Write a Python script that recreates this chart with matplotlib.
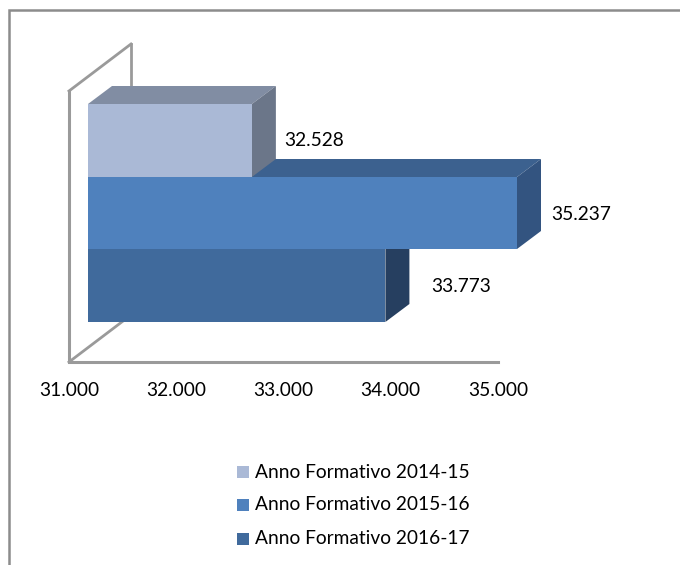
import matplotlib
matplotlib.use('Agg')
import matplotlib.pyplot as plt
from matplotlib.patches import Rectangle
from matplotlib.transforms import Affine2D

# data
series = ['Anno Formativo 2014-15', 'Anno Formativo 2015-16', 'Anno Formativo 2016-17']
values = [32528, 35237, 33773]
value_labels = ['32.528', '35.237', '33.773']
ticks = [31000, 32000, 33000, 34000, 35000]
tick_labels = ['31.000', '32.000', '33.000', '34.000', '35.000']

front_cols = ['#AAB9D6', '#4F81BD', '#406A9C']
top_cols = ['#818DA3', '#3C618F', '#3C618F']
side_cols = ['#6B7689', '#335480', '#263F60']

W, H = 680, 565
plt.rcParams['font.family'] = ['Lato', 'DejaVu Sans']
fig = plt.figure(figsize=(W / 100, H / 100), dpi=100)

# cornice del grafico (solo sinistra e sopra)
bg = fig.add_axes([0, 0, 1, 1])
bg.axis('off')
bg.plot([9, 9, 680], [565, 9.5, 9.5], color='#8C8C8C', lw=1.8, solid_joinstyle='miter')
bg.set_xlim(0, W)
bg.set_ylim(H, 0)

# assi: x in valori, y in bande (0 in alto)
left, right = 69, 498
top, bottom = 91, 362
ax = fig.add_axes([left / W, 1 - bottom / H, (right - left) / W, (bottom - top) / H])
ax.set_xlim(ticks[0], ticks[-1])
ax.set_ylim(271, 0)
ax.axis('off')
ax.patch.set_alpha(0)

dx, dy = 24, 18   # profondita 3d in pixel
ox = 19           # spostamento della faccia frontale

tr_front = ax.transData + Affine2D().translate(ox, 0)
tr_back = ax.transData + Affine2D().translate(ox + dx, dy)

band_top = [13, 86, 158]
band_h = [73, 72, 73]
xmin, xmax = ticks[0], ticks[-1]

# pareti
wall = '#9A9A9A'
ax.plot([xmax, xmin, xmin], [271, 271, 0], color=wall, lw=2.2, clip_on=False, solid_joinstyle='miter')
tr_wall = ax.transData + Affine2D().translate(62, 47)
ax.plot([xmin, xmin], [0, 271], color=wall, lw=2.0, transform=tr_wall, clip_on=False, zorder=1)
for y in (0, 271):
    p0 = ax.transData.transform((xmin, y))
    bg.plot([p0[0], p0[0] + 62], [H - p0[1], H - p0[1] - 47], color=wall, lw=2.0, zorder=1)
bg.set_xlim(0, W)
bg.set_ylim(H, 0)

# barre dal basso verso l'alto
for i in [2, 1, 0]:
    v = min(values[i], xmax)
    y0, h = band_top[i], band_h[i]
    z = 6 - i
    a = tr_front.transform([(xmin, y0), (v, y0)])
    b = tr_back.transform([(v, y0), (xmin, y0)])
    ax.fill([p[0] for p in [*a, *b]], [p[1] for p in [*a, *b]], color=top_cols[i],
            transform=None, clip_on=False, zorder=z, lw=0)
    c = tr_front.transform([(v, y0), (v, y0 + h)])
    d = tr_back.transform([(v, y0 + h), (v, y0)])
    ax.fill([p[0] for p in [*c, *d]], [p[1] for p in [*c, *d]], color=side_cols[i],
            transform=None, clip_on=False, zorder=z, lw=0)
    ax.barh(y0 + h / 2, v - xmin, h, left=xmin, color=front_cols[i], transform=tr_front,
            clip_on=False, zorder=z + 0.5, lw=0)

# etichette valori
label_px = [(314, 140), (581, 214), (461, 286)]
for s, (lx, ly) in zip(value_labels, label_px):
    bg.text(lx, ly, s, fontsize=13.8, ha='center', va='center', color='black', zorder=10)

# etichette asse x
for t, s in zip(ticks, tick_labels):
    px = ax.transData.transform((t, 0))[0]
    bg.text(px, 390, s, fontsize=13.8, ha='center', va='center', color='black')

# legenda
for y, s, c in zip([472, 505, 539], series, front_cols):
    bg.add_patch(Rectangle((237, y - 6), 12, 12, color=c, lw=0))
    bg.text(255, y, s, fontsize=13.8, ha='left', va='center', color='black')

fig.savefig('out.png', dpi=100)
